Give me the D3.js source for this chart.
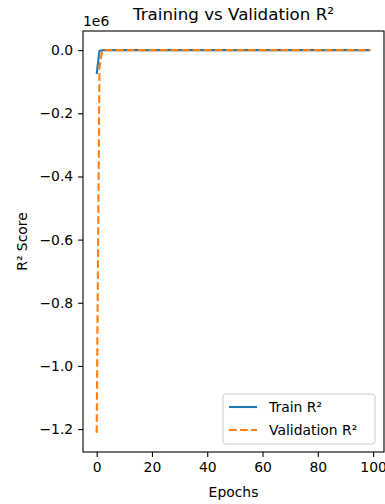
<!DOCTYPE html>
<html>
<head>
<meta charset="utf-8">
<script src="https://cdn.jsdelivr.net/npm/d3@7"></script>
<style>
  body { margin: 0; background: #fff; }
  text { font-family: "DejaVu Sans", sans-serif; fill: #000; }
</style>
</head>
<body>
<div id="chart"></div>
<script>

// Data (values in raw R² units)

var epochs = [
   0,  1,  2,  3,  4,  5,  6,  7,  8,  9,
  10, 11, 12, 13, 14, 15, 16, 17, 18, 19,
  20, 21, 22, 23, 24, 25, 26, 27, 28, 29,
  30, 31, 32, 33, 34, 35, 36, 37, 38, 39,
  40, 41, 42, 43, 44, 45, 46, 47, 48, 49,
  50, 51, 52, 53, 54, 55, 56, 57, 58, 59,
  60, 61, 62, 63, 64, 65, 66, 67, 68, 69,
  70, 71, 72, 73, 74, 75, 76, 77, 78, 79,
  80, 81, 82, 83, 84, 85, 86, 87, 88, 89,
  90, 91, 92, 93, 94, 95, 96, 97, 98, 99
];

var trainR2 = [
  -75600, -2500, -300, -40, -6, -0.5, 0.2, 0.4, 0.5, 0.6,
  0.6, 0.7, 0.7, 0.7, 0.7, 0.8, 0.8, 0.8, 0.8, 0.8,
  0.8, 0.8, 0.8, 0.8, 0.8, 0.8, 0.8, 0.8, 0.8, 0.8,
  0.8, 0.8, 0.8, 0.8, 0.8, 0.8, 0.8, 0.8, 0.8, 0.8,
  0.8, 0.8, 0.8, 0.8, 0.8, 0.8, 0.8, 0.8, 0.8, 0.8,
  0.8, 0.8, 0.8, 0.8, 0.8, 0.8, 0.8, 0.8, 0.8, 0.8,
  0.8, 0.8, 0.8, 0.8, 0.8, 0.8, 0.8, 0.8, 0.8, 0.8,
  0.8, 0.8, 0.8, 0.8, 0.8, 0.8, 0.8, 0.8, 0.8, 0.8,
  0.8, 0.8, 0.8, 0.8, 0.8, 0.8, 0.8, 0.8, 0.8, 0.8,
  0.8, 0.8, 0.8, 0.8, 0.8, 0.8, 0.8, 0.8, 0.8, 0.8
];

var valR2 = [
  -1212000, -55000, -2000, -150, -20, -2, 0.1, 0.3, 0.4, 0.5,
  0.5, 0.6, 0.6, 0.6, 0.6, 0.7, 0.7, 0.7, 0.7, 0.7,
  0.7, 0.7, 0.7, 0.7, 0.7, 0.7, 0.7, 0.7, 0.7, 0.7,
  0.7, 0.7, 0.7, 0.7, 0.7, 0.7, 0.7, 0.7, 0.7, 0.7,
  0.7, 0.7, 0.7, 0.7, 0.7, 0.7, 0.7, 0.7, 0.7, 0.7,
  0.7, 0.7, 0.7, 0.7, 0.7, 0.7, 0.7, 0.7, 0.7, 0.7,
  0.7, 0.7, 0.7, 0.7, 0.7, 0.7, 0.7, 0.7, 0.7, 0.7,
  0.7, 0.7, 0.7, 0.7, 0.7, 0.7, 0.7, 0.7, 0.7, 0.7,
  0.7, 0.7, 0.7, 0.7, 0.7, 0.7, 0.7, 0.7, 0.7, 0.7,
  0.7, 0.7, 0.7, 0.7, 0.7, 0.7, 0.7, 0.7, 0.7, 0.7
];

var xTicks = [0, 20, 40, 60, 80, 100];
var yTicks = [0, -200000, -400000, -600000, -800000, -1000000, -1200000];

var seriesNames = ["Train R²", "Validation R²"];
var seriesColors = ["#1f77b4", "#ff7f0e"];


//  Drawing

var w = 385;
var h = 504;
var margin = {top: 31, right: 1, bottom: 52, left: 83};
var width = w - margin.left - margin.right;
var height = h - margin.top - margin.bottom;

var svg = d3.select("#chart")
    .append("svg")
    .attr("width", w)
    .attr("height", h);

var g = svg.append("g")
    .attr("transform", "translate(" + margin.left + "," + margin.top + ")");

// matplotlib style 5% margins
var xMin = d3.min(epochs), xMax = d3.max(epochs);
var xPad = (xMax - xMin) * 0.05;
var allY = trainR2.concat(valR2);
var yMin = d3.min(allY), yMax = d3.max(allY);
var yPad = (yMax - yMin) * 0.05;

var x = d3.scaleLinear().domain([xMin - xPad, xMax + xPad]).range([0, width]);
var y = d3.scaleLinear().domain([yMin - yPad, yMax + yPad]).range([height, 0]);

var fmtY = function(d) {
    var s = (d / 1e6).toFixed(1);
    return s.replace("-", "\u2212");
};

// Axes
var xAxis = d3.axisBottom(x).tickValues(xTicks).tickSize(4.9).tickPadding(4.9).tickFormat(d3.format("d"));
var yAxis = d3.axisLeft(y).tickValues(yTicks).tickSize(4.9).tickPadding(4.9).tickFormat(fmtY);

var gx = g.append("g")
    .attr("transform", "translate(0," + height + ")")
    .call(xAxis);
var gy = g.append("g").call(yAxis);

[gx, gy].forEach(function(a) {
    a.select(".domain").remove();
    a.selectAll("line").attr("stroke", "#000").attr("stroke-width", 1.1);
    a.selectAll("text")
        .style("font-family", "DejaVu Sans")
        .style("font-size", "13.9px")
        .attr("fill", "#000");
});

// Lines
var line = function(vals) {
    return d3.line()
        .x(function(d, i) { return x(epochs[i]); })
        .y(function(d) { return y(d); })(vals);
};

var plot = g.append("g");
plot.append("path")
    .attr("d", line(trainR2))
    .attr("fill", "none")
    .attr("stroke", seriesColors[0])
    .attr("stroke-width", 2.1);

plot.append("path")
    .attr("d", line(valR2))
    .attr("fill", "none")
    .attr("stroke", seriesColors[1])
    .attr("stroke-width", 2.1)
    .attr("stroke-dasharray", "7.7,3.3");

// Frame
g.append("rect")
    .attr("x", 0).attr("y", 0)
    .attr("width", width).attr("height", height)
    .attr("fill", "none")
    .attr("stroke", "#000")
    .attr("stroke-width", 1.1);

// Title and labels
svg.append("text")
    .attr("x", margin.left + width / 2)
    .attr("y", 20)
    .attr("text-anchor", "middle")
    .style("font-size", "16.7px")
    .text("Training vs Validation R²");

svg.append("text")
    .attr("x", margin.left)
    .attr("y", 26)
    .style("font-size", "13.9px")
    .text("1e6");

svg.append("text")
    .attr("x", margin.left + width / 2)
    .attr("y", 497)
    .attr("text-anchor", "middle")
    .style("font-size", "13.9px")
    .text("Epochs");

svg.append("text")
    .attr("transform", "translate(27," + (margin.top + height / 2) + ") rotate(-90)")
    .attr("text-anchor", "middle")
    .style("font-size", "13.9px")
    .text("R² Score");

// Legend
var legend = g.append("g")
    .attr("transform", "translate(" + (width - 161) + "," + (height - 58) + ")");

legend.append("rect")
    .attr("width", 152).attr("height", 50)
    .attr("rx", 3)
    .attr("fill", "#fff")
    .attr("fill-opacity", 0.8)
    .attr("stroke", "#ccc")
    .attr("stroke-width", 1);

seriesNames.forEach(function(name, i) {
    var ly = 13 + i * 23;
    legend.append("line")
        .attr("x1", 6).attr("x2", 34)
        .attr("y1", ly).attr("y2", ly)
        .attr("stroke", seriesColors[i])
        .attr("stroke-width", 2.1)
        .attr("stroke-dasharray", i == 1 ? "7.7,3.3" : null);
    legend.append("text")
        .attr("x", 46)
        .attr("y", ly + 5)
        .style("font-size", "13.9px")
        .text(name);
});

</script>
</body>
</html>
